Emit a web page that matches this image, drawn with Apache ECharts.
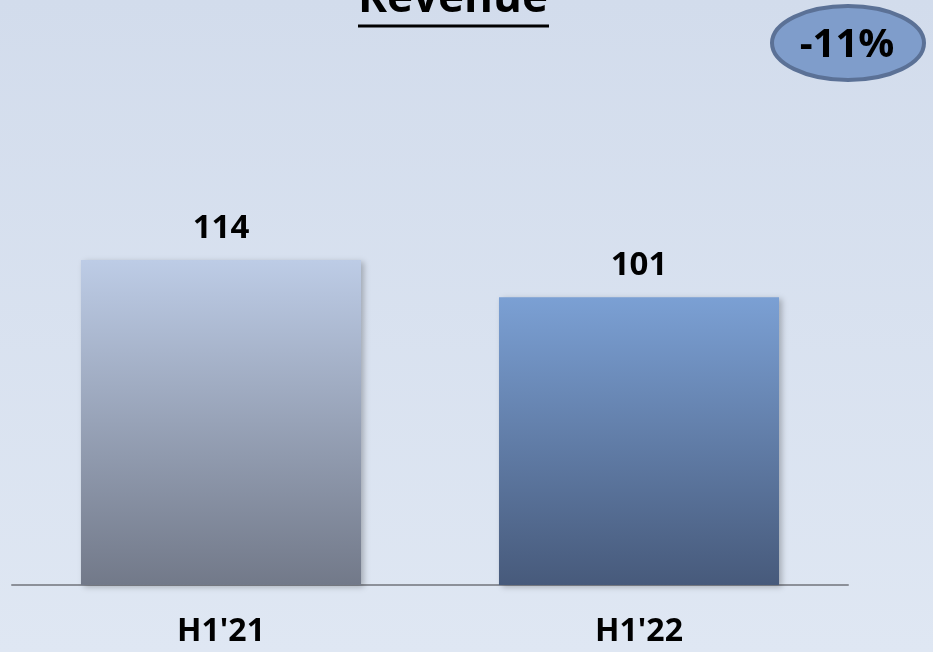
<!DOCTYPE html>
<html><head><meta charset="utf-8">
<script src="https://cdn.jsdelivr.net/npm/echarts@6/dist/echarts.min.js"></script>
<style>html,body{margin:0;padding:0;}#c{width:933px;height:652px;}</style>
</head><body><div id="c"></div>
<script>
const categories = ["H1'21", "H1'22"];
const revenue = [114, 101];
const titleText = "Revenue";
const changeText = "-11%";

const barColors = [
  [{offset:0,color:'#bdcce6'},{offset:1,color:'#727989'}],
  [{offset:0,color:'#7ba0d4'},{offset:1,color:'#475a7b'}]
];
const chart = echarts.init(document.getElementById('c'));
const font = '"Open Sans", sans-serif';
chart.setOption({
  backgroundColor: new echarts.graphic.LinearGradient(0,0,0,1,[{offset:0,color:'#d2dcec'},{offset:1,color:'#dfe7f3'}]),
  animation: false,
  grid: {left: 12, right: 85, top: 15, bottom: 67},
  xAxis: {
    type: 'category', data: categories,
    axisLine: {lineStyle: {color: '#8c9099', width: 2}},
    axisTick: {show: false},
    axisLabel: {color: '#000', fontFamily: font, fontWeight: 'bold', fontSize: 32, margin: 31}
  },
  yAxis: {type: 'value', min: 0, max: 200, show: false, splitLine: {show: false}},
  series: [{
    type: 'bar', barWidth: '67%',
    data: revenue.map((v,i)=>({value:v, itemStyle:{color:new echarts.graphic.LinearGradient(0,0,0,1,barColors[i])}})),
    itemStyle: {shadowColor: 'rgba(0,0,0,0.25)', shadowBlur: 6, shadowOffsetX: 3, shadowOffsetY: 2},
    label: {show: true, position: 'top', distance: 15, color: '#000', fontFamily: font, fontWeight: 'bold', fontSize: 33}
  }],
  graphic: [
    {type: 'text', x: 453, y: 21, style: {text: titleText, fill: '#000', font: 'bold 44px "Open Sans", sans-serif', align: 'center', verticalAlign: 'bottom'}},
    {type: 'line', shape: {x1: 358, y1: 26, x2: 549, y2: 26}, style: {stroke: '#000', lineWidth: 3}},
    {type: 'ellipse', shape: {cx: 848, cy: 43, rx: 76, ry: 37}, style: {fill: '#7f9dcb', stroke: '#5b7196', lineWidth: 4}},
    {type: 'text', x: 847, y: 46, style: {text: changeText, fill: '#000', font: 'bold 40px "Open Sans", sans-serif', align: 'center', verticalAlign: 'middle'}}
  ]
});
</script></body></html>
